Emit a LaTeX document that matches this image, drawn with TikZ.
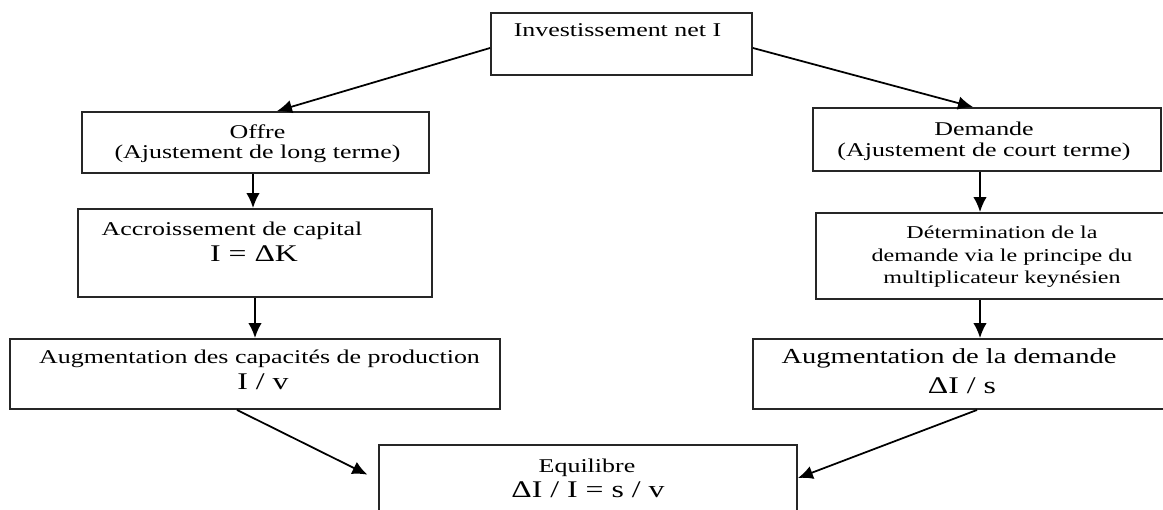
\documentclass[tikz,border=0pt]{standalone}
\usepackage{fontspec}
\setmainfont{Liberation Serif}[FakeStretch=1.33]
\usetikzlibrary{positioning}
\usetikzlibrary{arrows.meta}
\tikzstyle{box}=[rectangle,draw=black!85,line width=1.1pt,inner sep=0pt]
\tikzstyle{txt}=[inner sep=0pt,font=\fontsize{11.1}{11.9}\selectfont]
\tikzstyle{formula}=[inner sep=0pt,font=\fontsize{13.6}{14}\selectfont]
\tikzstyle{edge}=[draw,line width=1pt,-{Latex[length=0.3cm,width=0.27cm]}]

\begin{document}
\begin{tikzpicture}[x=0.02cm,y=-0.02cm]

  \useasboundingbox (0,0) rectangle (1163,510);

  % boxes
  \node[box,minimum width=5.22cm,minimum height=1.24cm] (inv) at (621.5,44) {};
  \node[box,minimum width=6.94cm,minimum height=1.22cm] (offre) at (255.5,142.5) {};
  \node[box,minimum width=6.96cm,minimum height=1.26cm] (dem) at (987,139.5) {};
  \node[box,minimum width=7.08cm,minimum height=1.76cm] (acc) at (255,253) {};
  \node[box,minimum width=7.04cm,minimum height=1.72cm] (det) at (992,256) {};
  \node[box,minimum width=9.8cm,minimum height=1.4cm] (augc) at (255,374) {};
  \node[box,minimum width=8.34cm,minimum height=1.4cm] (augd) at (961.5,374) {};
  \node[box,minimum width=8.36cm,minimum height=1.7cm] (equ) at (588,487.5) {};

  % texts
  \node[txt,anchor=base] (invt) at (617.5,37) {Investissement net I};
  \node[txt,anchor=north,align=center] (offt) at (257.5,124) {Offre\\(Ajustement de long terme)};
  \node[txt,anchor=north,align=center] (demt) at (984,122) {Demande\\(Ajustement de court terme)};
  \node[txt,anchor=base] (acct) at (232,235) {Accroissement de capital};
  \node[formula,anchor=base] (acck) at (254,261) {I = ΔK};
  \node[txt,anchor=north,align=center,font=\fontsize{10.3}{12.8}\selectfont] (dett) at (1002,226)
       {Détermination de la\\demande via le principe du\\multiplicateur keynésien};
  \node[txt,anchor=base] (augct) at (259.5,363) {Augmentation des capacités de production};
  \node[formula,anchor=base] (augck) at (263,389) {I / v};
  \node[txt,anchor=base,font=\fontsize{12.2}{13}\selectfont] (augdt) at (949,363) {Augmentation de la demande};
  \node[formula,anchor=base] (augdk) at (962,393) {ΔI / s};
  \node[txt,anchor=base] (equt) at (587,472) {Equilibre};
  \node[formula,anchor=base] (equk) at (588,497) {ΔI / I = s / v};

  % connectors
  \draw[edge] ([yshift=-0.08cm]inv.west) -- ([xshift=0.43cm]offre.north);
  \draw[edge] ([yshift=-0.08cm]inv.east) -- ([xshift=-0.28cm]dem.north);
  \foreach \source/\dest/\dx in {offre/acc/-0.05, acc/augc/0, dem/det/-0.14, det/augd/-0.24}
     \draw[edge] ([xshift=\dx cm]\source.south) -- ([xshift=\dx cm]\source.south |- \dest.north);
  \draw[edge,shorten >=0.24cm] ([xshift=-0.36cm]augc.south) -- ([yshift=0.15cm]equ.west);
  \draw[edge] ([xshift=0.31cm]augd.south) -- ([yshift=0.19cm]equ.east);

\end{tikzpicture}
\end{document}
